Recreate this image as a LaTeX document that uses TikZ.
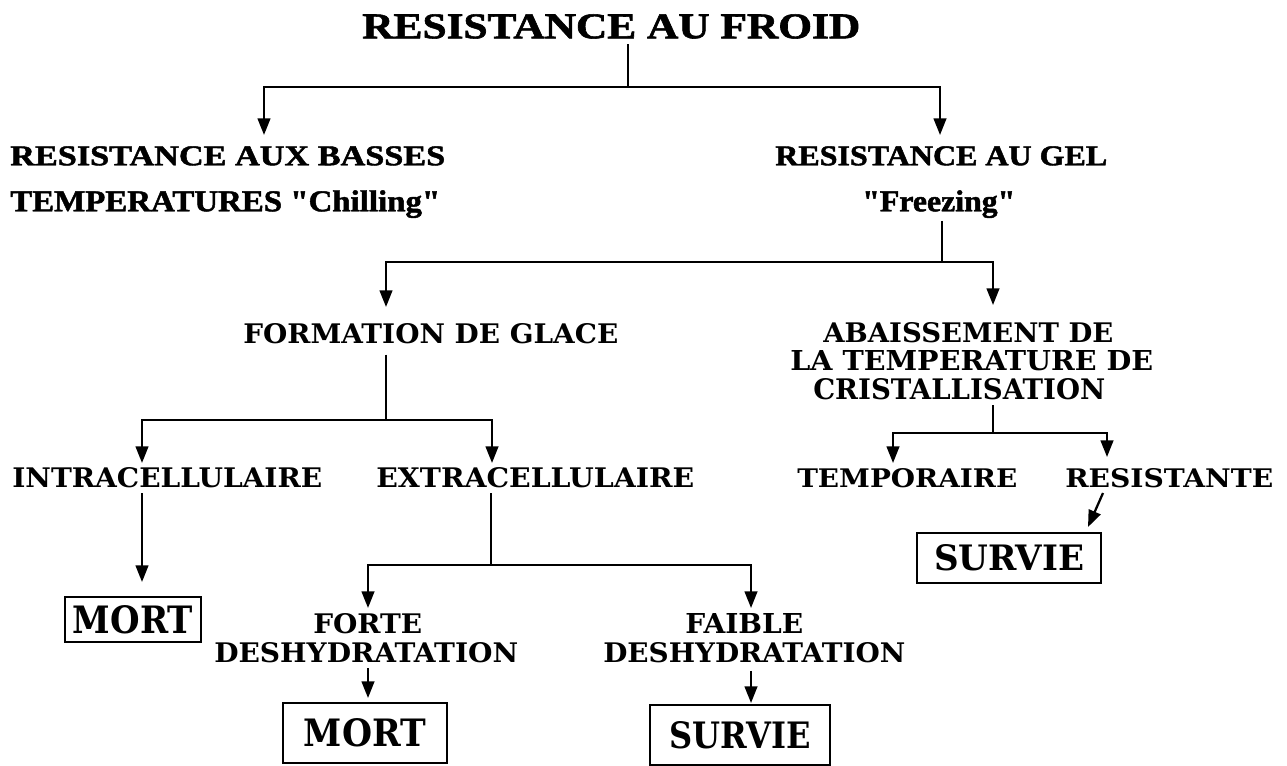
\documentclass[tikz,border=0pt]{standalone}
\usepackage{fontspec}
\usepackage{graphicx}
\usetikzlibrary{arrows.meta}
\setmainfont{DejaVu Serif}
\newfontfamily\topfont{Liberation Serif}[BoldFeatures={FakeBold=1.5}]
\newdimen\pxu \pxu=0.75pt
\newcommand{\fit}[3]{\resizebox{#1\pxu}{#2\pxu}{#3}}
\tikzset{
  tx/.style={inner sep=0pt, anchor=north west, font=\bfseries},
  toptx/.style={inner sep=0pt, anchor=north west, font=\topfont\bfseries},
  ln/.style={line width=1.7pt, line join=miter},
  arr/.style={ln, -{Triangle[length=12.5pt,width=9.5pt]}},
  endbox/.style={draw, line width=1.8pt, inner sep=0pt, font=\bfseries},
}
\begin{document}
\begin{tikzpicture}[x=0.75pt,y=-0.75pt]
\fill[white] (0,0) rectangle (1287,766);
\useasboundingbox (0,0) rectangle (1287,766);

% nodes
\node[toptx] (title) at (362,14) {\fit{498}{24}{RESISTANCE AU FROID}};
\node[toptx] (n1a) at (10,146) {\fit{435}{19}{RESISTANCE AUX BASSES}};
\node[toptx] (n1b) at (10,190) {\fit{430}{21}{TEMPERATURES "Chilling"}};
\node[toptx] (n2a) at (775,146) {\fit{332}{19}{RESISTANCE AU GEL}};
\node[toptx] (n2b) at (862,190) {\fit{153}{21}{"Freezing"}};

\node[tx] (n3) at (243,323) {\fit{375}{20}{FORMATION DE GLACE}};
\node[tx] (n4a) at (823,322) {\fit{290}{20}{ABAISSEMENT DE}};
\node[tx] (n4b) at (790,350) {\fit{363}{20}{LA TEMPERATURE DE}};
\node[tx] (n4c) at (813,378) {\fit{292}{21}{CRISTALLISATION}};

\node[tx] (n5) at (12,467) {\fit{310}{20}{INTRACELLULAIRE}};
\node[tx] (n6) at (376,467) {\fit{318}{20}{EXTRACELLULAIRE}};
\node[tx] (n7) at (797,468) {\fit{220}{19}{TEMPORAIRE}};
\node[tx] (n8) at (1065,468) {\fit{208}{19}{RESISTANTE}};

\node[tx] (n9a) at (313,613) {\fit{109}{20}{FORTE}};
\node[tx] (n9b) at (214,642) {\fit{304}{20}{DESHYDRATATION}};
\node[tx] (n10a) at (685,613) {\fit{118}{20}{FAIBLE}};
\node[tx] (n10b) at (603,642) {\fit{302}{20}{DESHYDRATATION}};

\node[endbox, minimum width=136*0.75pt, minimum height=45*0.75pt] (m1) at (133,619.5) {\fit{120}{28}{MORT}};
\node[endbox, minimum width=164*0.75pt, minimum height=60*0.75pt] (m2) at (365,733) {\fit{122}{28}{MORT}};
\node[endbox, minimum width=180*0.75pt, minimum height=60*0.75pt] (s2) at (740,735) {\fit{141}{27}{SURVIE}};
\node[endbox, minimum width=184*0.75pt, minimum height=50*0.75pt] (s1) at (1009,558) {\fit{150}{26}{SURVIE}};

% junctions and arrow ends
\coordinate (j1) at (628,87);
\coordinate (t1) at (264,135);
\coordinate (t2) at (940,135);
\coordinate (j2) at (942,262);
\coordinate (t3) at (386,307);
\coordinate (t4) at (993,305);
\coordinate (j3) at (386,420);
\coordinate (t5) at (142,463);
\coordinate (t6) at (492,463);
\coordinate (j4) at (993,433);
\coordinate (t7) at (893,463);
\coordinate (t8) at (1107,457);
\coordinate (t9) at (142,582);
\coordinate (j5) at (491,565);
\coordinate (t10) at (368,608);
\coordinate (t11) at (751,608);
\coordinate (t12) at (368,698);
\coordinate (t13) at (751,703);
\coordinate (d1) at (1103,493);
\coordinate (d2) at (1088,527);

% connectors
\draw[ln, shorten <=4pt] (j1 |- title.south) -- (j1);
\draw[arr] (j1) -| (t1);
\draw[arr] (j1) -| (t2);

\draw[ln, shorten <=2pt] (j2 |- n2b.south) -- (j2);
\draw[arr] (j2) -| (t3);
\draw[arr] (j2) -| (t4);

\draw[ln, shorten <=8pt] (j3 |- n3.south) -- (j3);
\draw[arr] (j3) -| (t5);
\draw[arr] (j3) -| (t6);

\draw[ln, shorten <=4pt] (j4 |- n4c.south) -- (j4);
\draw[arr] (j4) -| (t7);
\draw[arr] (j4) -| (t8);

\draw[arr, shorten <=4pt] (t9 |- n5.south) -- (t9);
\draw[ln, shorten <=4pt] (j5 |- n6.south) -- (j5);
\draw[arr] (j5) -| (t10);
\draw[arr] (j5) -| (t11);

\draw[arr, shorten <=4pt] (t12 |- n9b.south) -- (t12);
\draw[arr, shorten <=6pt] (t13 |- n10b.south) -- (t13);
\draw[arr] (d1) -- (d2);
\end{tikzpicture}
\end{document}
